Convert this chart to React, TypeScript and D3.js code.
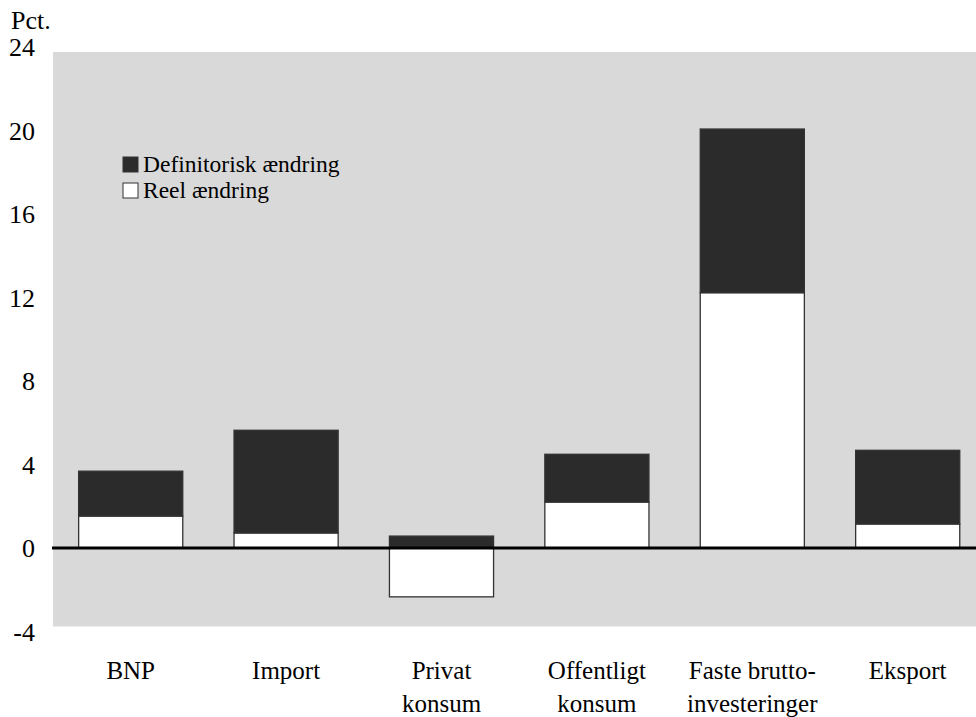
import React, { useEffect, useRef } from "react";
import * as d3 from "d3";

const categories = ["BNP", "Import", "Privat konsum", "Offentligt konsum", "Faste brutto-investeringer", "Eksport"];
const categoryLines = [["BNP"], ["Import"], ["Privat", "konsum"], ["Offentligt", "konsum"], ["Faste brutto-", "investeringer"], ["Eksport"]];
const reel = [1.53, 0.72, -2.34, 2.2, 12.23, 1.15];
const definitorisk = [2.15, 4.92, 0.57, 2.29, 7.84, 3.53];
const yTicks = [-4, 0, 4, 8, 12, 16, 20, 24];
const seriesNames = ["Definitorisk ændring", "Reel ændring"];

const W = 976;
const H = 717;
const FONT = "'Liberation Serif', 'Times New Roman', Tinos, serif";

const App = () => {
  const svgRef = useRef<SVGSVGElement>(null);

  useEffect(() => {
    const svg = d3.select(svgRef.current);
    svg.selectAll("*").remove();

    const left = 53;
    const x = d3
      .scaleBand()
      .domain(categories)
      .range([left, left + 6 * 155.4])
      .paddingInner(0.33)
      .paddingOuter(0.165);

    const y = d3.scaleLinear().domain([-4, 24]).range([631.5, 47]);

    // grey plot background
    svg
      .append("rect")
      .attr("x", left)
      .attr("y", y(24) + 5)
      .attr("width", W - left)
      .attr("height", y(-4) - y(24) - 10)
      .attr("fill", "#d9d9d9");

    const rows = categories.map((c, i) => ({ cat: c, reel: reel[i], def: definitorisk[i] }));
    const stack = d3
      .stack<any>()
      .keys(["reel", "def"])
      .offset(d3.stackOffsetDiverging);
    const layers = stack(rows);
    const colors = { reel: "#ffffff", def: "#2b2b2b" };

    layers.forEach((layer) => {
      svg
        .append("g")
        .selectAll("rect")
        .data(layer)
        .enter()
        .append("rect")
        .attr("x", (d: any) => x(d.data.cat)!)
        .attr("width", x.bandwidth())
        .attr("y", (d) => y(Math.max(d[0], d[1])))
        .attr("height", (d) => Math.abs(y(d[0]) - y(d[1])))
        .attr("fill", colors[layer.key as "reel" | "def"])
        .attr("stroke", "#333")
        .attr("stroke-width", 1.3);
    });

    // zero line
    svg
      .append("line")
      .attr("x1", left - 1)
      .attr("x2", W)
      .attr("y1", y(0))
      .attr("y2", y(0))
      .attr("stroke", "#000")
      .attr("stroke-width", 3);

    // y tick labels, right aligned
    const yAxis = d3.axisLeft(y).tickValues(yTicks).tickSize(0).tickFormat((d) => String(d));
    const ya = svg.append("g").attr("transform", "translate(35,0)").call(yAxis);
    ya.select(".domain").remove();
    ya.attr("font-family", null).attr("font-size", null);
    ya.selectAll("text")
      .attr("x", 0)
      .attr("dy", "0.34em")
      .attr("text-anchor", "end")
      .style("font-family", FONT)
      .style("font-size", "26px")
      .attr("fill", "#000");

    svg
      .append("text")
      .attr("x", 11)
      .attr("y", 29)
      .style("font-family", FONT)
      .style("font-size", "26px")
      .text("Pct.");

    // category labels
    const xl = svg.append("g");
    categories.forEach((c, i) => {
      const cx = x(c)! + x.bandwidth() / 2;
      const t = xl
        .append("text")
        .attr("x", cx)
        .attr("y", 679)
        .attr("text-anchor", "middle")
        .style("font-family", FONT)
        .style("font-size", "25px");
      categoryLines[i].forEach((line, j) => {
        t.append("tspan")
          .attr("x", cx)
          .attr("dy", j === 0 ? 0 : 33)
          .text(line);
      });
    });

    // legend
    const lg = svg.append("g").attr("transform", "translate(123,157)");
    seriesNames.forEach((name, i) => {
      lg.append("rect")
        .attr("x", 0)
        .attr("y", i * 26)
        .attr("width", 15)
        .attr("height", 15)
        .attr("fill", i === 0 ? "#2b2b2b" : "#fff")
        .attr("stroke", "#333")
        .attr("stroke-width", 1);
      lg.append("text")
        .attr("x", 20)
        .attr("y", i * 26 + 15)
        .style("font-family", FONT)
        .style("font-size", "23.5px")
        .text(name);
    });
  }, []);

  return <svg ref={svgRef} width={W} height={H} style={{ position: "absolute", left: 0, top: 0, background: "#fff" }} />;
};

export default App;
